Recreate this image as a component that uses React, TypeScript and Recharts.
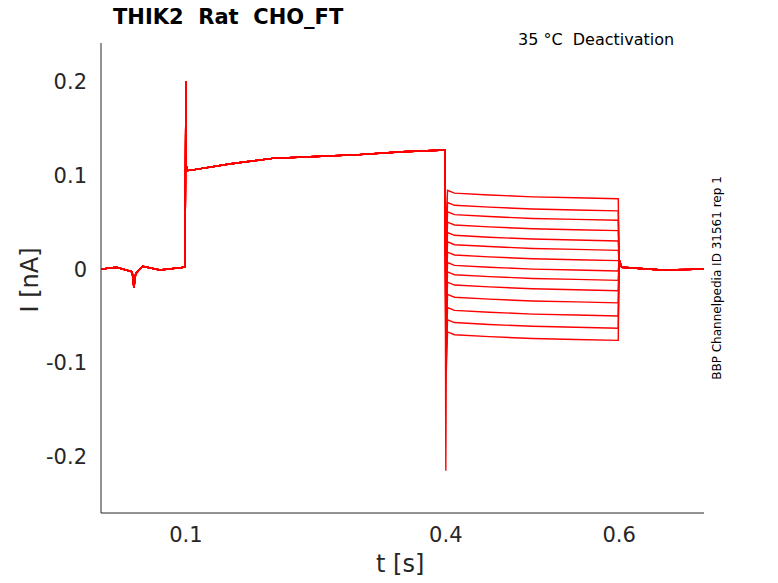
import { LineChart, Line, XAxis, YAxis } from 'recharts';

// time points (s)
const timePoints = [0.002, 0.02, 0.038, 0.04, 0.042, 0.05, 0.07, 0.099, 0.1, 0.1005, 0.102, 0.11, 0.15, 0.2, 0.25, 0.3, 0.35, 0.399, 0.4, 0.4005, 0.402, 0.41, 0.45, 0.5, 0.55, 0.599, 0.6, 0.603, 0.65, 0.698];
// shared current before the test step (nA), index 0..17
const holdCurrent = [0.0, 0.002, -0.003, -0.02, -0.005, 0.003, -0.001, 0.002, 0.2, 0.11, 0.105, 0.106, 0.112, 0.118, 0.12, 0.122, 0.125, 0.127];
// test level per trace (nA)
const testLevels = [0.081, 0.068, 0.058, 0.047, 0.036, 0.026, 0.015, 0.004, -0.006, -0.017, -0.030, -0.044, -0.057, -0.070];
// drift within the test step, index 19..25
const testDrift = [-0.04, 0.003, 0.0, -0.002, -0.004, -0.005, -0.006];
// tail after the step, index 26..29
const tailCurrent = [0.01, 0.002, -0.001, 0.0];

const traces = testLevels.map((lvl, i) =>
  timePoints.map((t, k) => {
    let v: number;
    if (k < 18) v = holdCurrent[k];
    else if (k === 18) v = i === 13 ? -0.215 : lvl - 0.05;
    else if (k < 26) v = lvl + testDrift[k - 19];
    else v = tailCurrent[k - 26];
    return { t, v };
  })
);

const font = 'DejaVu Sans, sans-serif';

export default function App() {
  return (
    <div style={{ position: 'absolute', left: 0, top: 0, width: 778, height: 583, background: '#fff', fontFamily: font }}>
      <LineChart width={778} height={583} margin={{ top: 43, right: 74, bottom: 40, left: 21 }}>
        <XAxis
          dataKey="t"
          type="number"
          domain={[0.002, 0.698]}
          ticks={[0.1, 0.4, 0.6]}
          tickFormatter={(v) => String(v)}
          allowDuplicatedCategory={false}
          height={30}
          stroke="#262626"
          tickLine={false}
          tick={{ fontSize: 21, fill: '#262626', fontFamily: font, dy: 6 }}
        />
        <YAxis
          dataKey="v"
          type="number"
          domain={[-0.26, 0.241]}
          ticks={[-0.2, -0.1, 0, 0.1, 0.2]}
          tickFormatter={(v) => (v === 0 ? '0' : String(v))}
          width={80}
          stroke="#262626"
          tickLine={false}
          tick={{ fontSize: 21, fill: '#262626', fontFamily: font, dx: -6 }}
        />
        {traces.map((d, i) => (
          <Line key={i} data={d} dataKey="v" stroke="#ff0000" strokeWidth={1.4} dot={false} isAnimationActive={false} type="linear" />
        ))}
      </LineChart>
      <div style={{ position: 'absolute', left: 113, top: 5, fontSize: 21, fontWeight: 'bold', whiteSpace: 'pre' }}>THIK2  Rat  CHO_FT</div>
      <div style={{ position: 'absolute', left: 518, top: 30, fontSize: 16, whiteSpace: 'pre' }}>35 °C  Deactivation</div>
      <div style={{ position: 'absolute', left: 376, top: 550, fontSize: 24, color: '#262626' }}>t [s]</div>
      <div style={{ position: 'absolute', left: 30, top: 280, fontSize: 24, color: '#262626', transform: 'translate(-50%,-50%) rotate(-90deg)', whiteSpace: 'nowrap' }}>I [nA]</div>
      <div style={{ position: 'absolute', left: 717, top: 278, fontSize: 12, transform: 'translate(-50%,-50%) rotate(-90deg)', whiteSpace: 'nowrap' }}>BBP Channelpedia ID 31561 rep 1</div>
    </div>
  );
}
